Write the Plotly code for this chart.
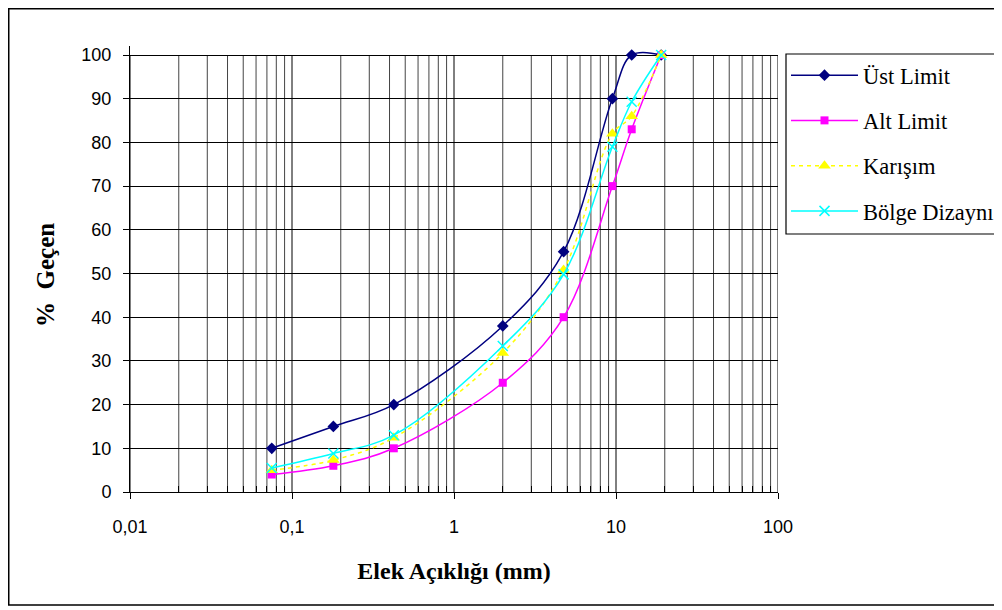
import plotly.graph_objects as go

sieve = [0.075, 0.18, 0.425, 2, 4.75, 9.5, 12.5, 19]
ust_limit = [10, 15, 20, 38, 55, 90, 100, 100]
alt_limit = [4, 6, 10, 25, 40, 70, 83, 100]
karisim = [5, 7.3, 12.4, 31.8, 50.8, 82, 86, 100]
bolge = [5.5, 8.8, 13, 33.4, 49.8, 79, 89.3, 100]

x_ticks = [0.01, 0.1, 1, 10, 100]
x_ticklabels = ["0,01", "0,1", "1", "10", "100"]
y_ticks = list(range(0, 101, 10))

grid_x = [m * 10 ** e for e in range(-2, 2) for m in range(1, 10)] + [100]
minor_vals = [m * 10 ** e for e in range(-2, 2) for m in range(2, 10)]

W, H = 994, 602
L, R, T, B = 122, 224, 38, 118
plot_w = W - L - R
plot_h = H - T - B
y_top = 100 * plot_h / 437


def px(x_page):
    return (x_page - 8 - L) / plot_w


def py(y_page):
    return (H - B - (y_page - 8)) / plot_h


fig = go.Figure()
series = [
    ("Üst Limit", ust_limit, "#000080", "diamond", "solid", 9),
    ("Alt Limit", alt_limit, "#FF00FF", "square", "solid", 8),
    ("Karışım", karisim, "#FFFF00", "triangle-up", "4px,4px", 11),
    ("Bölge Dizaynı", bolge, "#00FFFF", "x-thin", "solid", 10),
]
for i, (name, vals, col, sym, dash, sz) in enumerate(series):
    marker = dict(symbol=sym, color=col, size=sz)
    if sym == "x-thin":
        marker["line"] = dict(color=col, width=1.5)
    fig.add_trace(go.Scatter(
        x=sieve, y=vals, name=name, mode="lines+markers",
        line=dict(color=col, width=1.5, shape="spline", smoothing=1, dash=dash),
        marker=marker, cliponaxis=False, legendgroup=f"g{i}",
    ))

for gx in grid_x:
    fig.add_shape(type="line", xref="x", yref="y", x0=gx, x1=gx, y0=0, y1=100,
                  line=dict(color="black" if gx in x_ticks else "#444444", width=1),
                  layer="below")

fig.update_layout(
    width=W, height=H,
    margin=dict(l=L, r=R, t=T, b=B, autoexpand=False),
    paper_bgcolor="white", plot_bgcolor="white",
    font=dict(family="Liberation Sans, Arial", color="black", size=18),
    showlegend=True,
    legend=dict(
        x=px(786), y=py(54),
        xanchor="left", yanchor="top",
        borderwidth=0,
        font=dict(family="Liberation Serif, Times New Roman", size=22.5, color="black"),
        tracegroupgap=13, traceorder="grouped", itemwidth=67,
        bgcolor="rgba(0,0,0,0)",
    ),
    xaxis=dict(
        type="log", range=[-2, 2],
        tickvals=x_ticks, ticktext=x_ticklabels,
        showgrid=False,
        showline=True, linecolor="black", linewidth=1,
        ticks="outside", ticklen=6, tickcolor="black",
        minor=dict(tickvals=minor_vals, showgrid=False,
                   ticks="inside", ticklen=6, tickcolor="black"),
        zeroline=False, ticklabelstandoff=12,
        title=dict(text="<b>Elek Açıklığı (mm)</b>",
                   font=dict(family="Liberation Serif, Times New Roman", size=24),
                   standoff=26),
        tickfont=dict(size=18),
    ),
    yaxis=dict(
        range=[0, y_top], tickvals=y_ticks,
        showgrid=True, gridcolor="black", gridwidth=1,
        showline=True, linecolor="black", linewidth=1,
        ticks="outside", ticklen=6, tickcolor="black",
        zeroline=False, ticklabelstandoff=8,
        tickfont=dict(size=18),
    ),
)

fig.add_annotation(
    text="<b>%  Geçen</b>", xref="paper", yref="paper",
    x=px(45), y=py(275), xanchor="center", yanchor="middle",
    textangle=-90, showarrow=False,
    font=dict(family="Liberation Serif, Times New Roman", size=25, color="black"),
)

# outer chart border
fig.add_shape(type="rect", xref="paper", yref="paper",
              x0=(0.75 - L) / plot_w, x1=(1010 - L) / plot_w,
              y0=-(597 - (H - B)) / plot_h,
              y1=(H - B - 0.75) / plot_h,
              line=dict(color="black", width=1.5), layer="below")
# legend border
fig.add_shape(type="rect", xref="paper", yref="paper",
              x0=px(786), x1=px(1015), y0=py(234), y1=py(54),
              line=dict(color="black", width=1.2), fillcolor="white", layer="below")

fig.write_html("out.html")
